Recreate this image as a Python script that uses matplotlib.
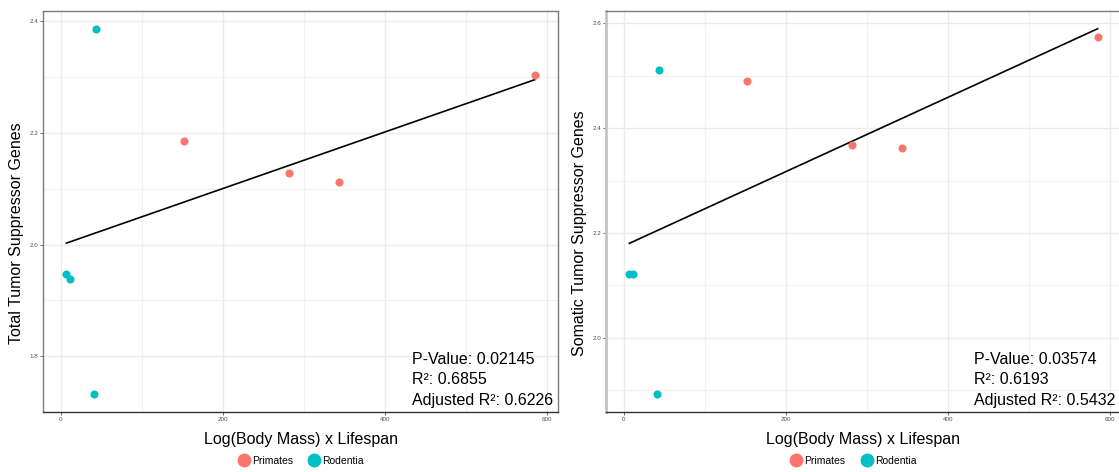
import numpy as np
import matplotlib
matplotlib.use("Agg")
import matplotlib.pyplot as plt
from matplotlib.lines import Line2D

plt.rcParams["font.family"] = ["Liberation Sans", "DejaVu Sans"]

# Log(Body Mass) x Lifespan per species
orders = ["Rodentia", "Rodentia", "Rodentia", "Rodentia",
          "Primates", "Primates", "Primates", "Primates"]
mass_lifespan = [7, 12, 41, 43.5, 152, 282, 344, 585]

# Gene counts (log scale) per species
total_tsg = [1.947, 1.938, 1.733, 2.386, 2.186, 2.128, 2.111, 2.304]
somatic_tsg = [2.121, 2.121, 1.893, 2.512, 2.490, 2.368, 2.362, 2.574]

stats_total = ["P-Value: 0.02145", "R\u00b2: 0.6855", "Adjusted R\u00b2: 0.6226"]
stats_somatic = ["P-Value: 0.03574", "R\u00b2: 0.6193", "Adjusted R\u00b2: 0.5432"]

palette = {"Primates": "#F8766D", "Rodentia": "#00BFC4"}
legend_order = ["Primates", "Rodentia"]

x_ticks = [0, 200, 400, 600]

W, H = 1119, 472
fig = plt.figure(figsize=(W / 100, H / 100), dpi=100)


def expanded(lo, hi, frac=0.05):
    r = hi - lo
    return lo - frac * r, hi + frac * r


def panel(rect, y, ylabel, y_ticks, stats, legend_x, right_style=False):
    ax = fig.add_axes(rect)
    x = np.asarray(mass_lifespan, float)
    y = np.asarray(y, float)

    slope, intercept = np.polyfit(x, y, 1)
    xl = np.array([x.min(), x.max()])
    yl = slope * xl + intercept

    ax.set_xticks(x_ticks)
    ax.set_xticklabels([str(t) for t in x_ticks])
    ax.set_yticks(y_ticks)
    ax.set_yticklabels([f"{t:.1f}" for t in y_ticks])
    mx = [(a + b) / 2 for a, b in zip(x_ticks[:-1], x_ticks[1:])]
    step = y_ticks[1] - y_ticks[0]
    my = [y_ticks[0] - step / 2] + \
         [(a + b) / 2 for a, b in zip(y_ticks[:-1], y_ticks[1:])] + \
         [y_ticks[-1] + step / 2]
    ax.set_xticks(mx, minor=True)
    ax.set_yticks(my, minor=True)

    ax.set_xlim(*expanded(x.min(), x.max()))
    ymin = min(y.min(), yl.min())
    ymax = max(y.max(), yl.max())
    ax.set_ylim(*expanded(ymin, ymax))

    ax.grid(True, which="major", color="#EBEBEB", lw=1.0, zorder=0)
    ax.grid(True, which="minor", color="#F2F2F2", lw=0.9, zorder=0)
    ax.tick_params(which="minor", length=0)
    ax.tick_params(which="major", length=2, width=0.6, color="#555555",
                   labelsize=4.5, labelcolor="#4D4D4D", pad=1.5)
    ax.set_axisbelow(True)

    for o in legend_order:
        idx = [i for i, g in enumerate(orders) if g == o]
        ax.scatter(x[idx], y[idx], s=34, color=palette[o], zorder=3,
                   linewidths=0)
    ax.plot(xl, yl, color="black", lw=1.2, zorder=2)

    ax.set_xlabel("Log(Body Mass) x Lifespan", fontsize=11.5, labelpad=7)
    ax.set_ylabel(ylabel, fontsize=11.5, labelpad=2)
    ax.yaxis.set_label_coords(-0.037, 0.446)

    ax.text(0.99, 0.01, "\n".join(stats), transform=ax.transAxes,
            ha="right", va="bottom", multialignment="left",
            fontsize=11.5, linespacing=1.47, zorder=4)

    for s in ax.spines.values():
        s.set_color("#7A7A7A")
        s.set_linewidth(1.0)
    ax.spines["bottom"].set_color("#333333")
    if right_style:
        ax.spines["left"].set_color("#C4C4C4")
        ax.spines["left"].set_linewidth(2.0)

    handles = [Line2D([], [], marker="o", ls="none", markersize=10,
                      markerfacecolor=palette[o], markeredgewidth=0,
                      label=o) for o in legend_order]
    ax.legend(handles=handles, loc="center", ncol=2, frameon=False,
              bbox_to_anchor=(legend_x, -0.122), fontsize=7.5,
              handletextpad=0.2, columnspacing=1.4, handlelength=1.2)
    return ax


ax_h = (412 - 10.5) / H
ax_b = (H - 412) / H
ax_w = 515 / W

panel([43 / W, ax_b, ax_w, ax_h], total_tsg,
      "Total Tumor Suppressor Genes", [1.8, 2.0, 2.2, 2.4],
      stats_total, 0.5)
panel([606 / W, ax_b, ax_w, ax_h], somatic_tsg,
      "Somatic Tumor Suppressor Genes", [2.0, 2.2, 2.4, 2.6],
      stats_somatic, 0.48, right_style=True)

fig.savefig("out.png", dpi=100)
